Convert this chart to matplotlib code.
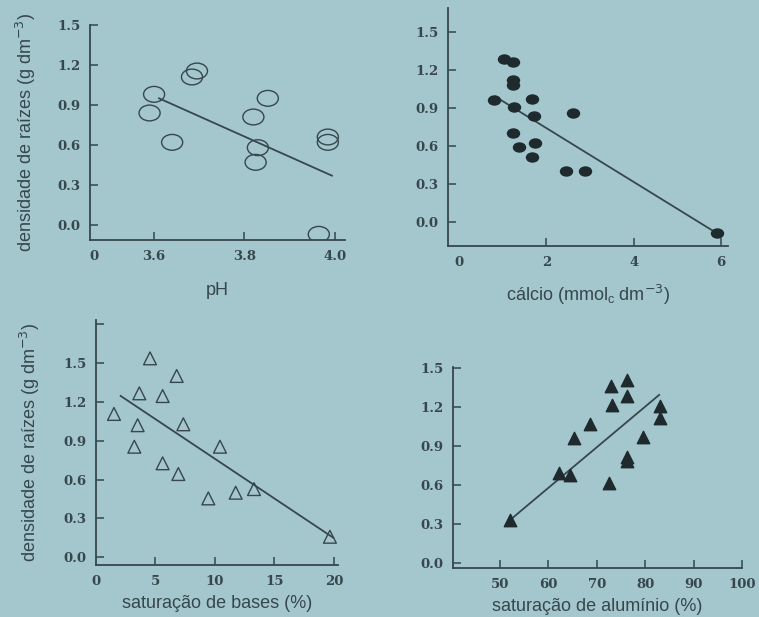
import matplotlib
matplotlib.use("Agg")
from matplotlib import pyplot as plt
from matplotlib.path import Path
from matplotlib.transforms import Affine2D

# pH panel (open circles)
ph_x = [3.60, 3.59, 3.64, 3.684, 3.695, 3.82, 3.852, 3.83, 3.825, 3.965, 3.985, 3.985]
ph_y = [0.98, 0.84, 0.62, 1.11, 1.155, 0.81, 0.95, 0.58, 0.47, -0.07, 0.66, 0.62]
ph_fit_x = [3.611, 3.994]
ph_fit_y = [0.95, 0.37]

# calcio panel (filled circles)
ca_x = [1.04, 1.24, 1.23, 1.24, 0.81, 1.26, 1.66, 1.72, 2.60, 1.23, 1.38, 1.74, 1.68, 2.45, 2.88, 5.90]
ca_y = [1.29, 1.26, 1.12, 1.08, 0.96, 0.905, 0.97, 0.84, 0.86, 0.705, 0.59, 0.62, 0.51, 0.40, 0.40, -0.09]
ca_fit_x = [0.83, 5.91]
ca_fit_y = [0.99, -0.09]

# saturacao de bases panel (open triangles)
sb_x = [1.51, 4.54, 3.64, 5.60, 6.78, 3.50, 3.22, 7.34, 10.42, 5.60, 6.92, 9.44, 11.74, 13.28, 19.66]
sb_y = [1.107, 1.536, 1.266, 1.245, 1.40, 1.02, 0.854, 1.027, 0.854, 0.726, 0.643, 0.455, 0.499, 0.527, 0.159]
sb_fit_x = [2.07, 19.95]
sb_fit_y = [1.246, 0.151]

# saturacao de aluminio panel (filled triangles)
al_x = [52.07, 62.25, 64.46, 65.35, 68.6, 72.87, 73.2, 76.18, 76.18, 72.59, 76.3, 76.3, 79.48, 83.06, 83.06]
al_y = [0.328, 0.697, 0.679, 0.961, 1.071, 1.364, 1.218, 1.41, 1.287, 0.615, 0.82, 0.789, 0.974, 1.21, 1.12]
al_fit_x = [52.07, 82.9]
al_fit_y = [0.33, 1.295]

bg = '#a4c6cd'
ink = '#36474d'
W, H = 759, 617

fig = plt.figure(figsize=(W / 100, H / 100), dpi=100, facecolor=bg)

# flattened circle, the scan is stretched sideways
ellipse = Path.unit_circle().transformed(Affine2D().scale(1.0, 0.75))

tick_font = dict(family='DejaVu Serif', weight='bold', size=9.5)
label_font = dict(family='Liberation Sans', size=13)


def make_ax(x0, x1, ytop, ybot):
    ax = fig.add_axes([x0 / W, 1 - ybot / H, (x1 - x0) / W, (ybot - ytop) / H])
    ax.set_facecolor('none')
    for s in ['top', 'right']:
        ax.spines[s].set_visible(False)
    for s in ['left', 'bottom']:
        ax.spines[s].set_color(ink)
        ax.spines[s].set_linewidth(1.3)
    ax.tick_params(direction='in', length=6, width=1.1, color=ink, labelcolor=ink, pad=7)
    return ax


def style_ticks(ax):
    for t in ax.get_xticklabels() + ax.get_yticklabels():
        t.set_fontfamily(tick_font['family'])
        t.set_fontweight(tick_font['weight'])
        t.set_fontsize(tick_font['size'])


yt = [0.0, 0.3, 0.6, 0.9, 1.2, 1.5]
ytl = ['0.0', '0.3', '0.6', '0.9', '1.2', '1.5']

# pH
ax1 = make_ax(90, 345, 25, 240)
ax1.set_xlim(3.458, 4.023)
ax1.set_ylim(-0.1125, 1.5)
ax1.plot(ph_fit_x, ph_fit_y, color=ink, lw=1.3)
ax1.scatter(ph_x, ph_y, marker=ellipse, s=230, facecolors='none', edgecolors=ink, linewidths=1.0, zorder=3)
ax1.set_xticks([3.467, 3.6, 3.8, 4.0], ['0', '3.6', '3.8', '4.0'])
ax1.xaxis.get_major_ticks()[0].tick1line.set_visible(False)
ax1.set_yticks(yt, ytl)
ax1.set_xlabel('pH', color=ink, labelpad=14, **label_font)
ax1.set_ylabel('densidade de raízes (g dm$^{-3}$)', color=ink, labelpad=14, **label_font)
style_ticks(ax1)

# calcio
ax2 = make_ax(448, 728, 8, 246)
ax2.set_xlim(-0.252, 6.156)
ax2.set_ylim(-0.189, 1.689)
ax2.plot(ca_fit_x, ca_fit_y, color=ink, lw=1.3)
ax2.scatter(ca_x, ca_y, marker=ellipse, s=75, color='#1e2a2e', edgecolors='#1e2a2e', zorder=3)
ax2.set_xticks([0, 2, 4, 6])
ax2.xaxis.get_major_ticks()[0].tick1line.set_visible(False)
ax2.set_yticks(yt, ytl)
ax2.set_xlabel('cálcio (mmol$_\\mathregular{c}$ dm$^{-3}$)', color=ink, labelpad=10, **label_font)
style_ticks(ax2)

# saturacao de bases
ax3 = make_ax(96, 338, 320, 565)
ax3.set_xlim(0, 20.34)
ax3.set_ylim(-0.059, 1.832)
ax3.plot(sb_fit_x, sb_fit_y, color=ink, lw=1.3)
ax3.scatter(sb_x, sb_y, marker='^', s=85, facecolors='none', edgecolors=ink, linewidths=1.0, zorder=3)
ax3.set_xticks([0, 5, 10, 15, 20])
ax3.xaxis.get_major_ticks()[0].tick1line.set_visible(False)
ax3.set_yticks(yt + [1.8], ytl + [''])
ax3.set_xlabel('saturação de bases (%)', color=ink, labelpad=5, **label_font)
ax3.set_ylabel('densidade de raízes (g dm$^{-3}$)', color=ink, labelpad=15, **label_font)
style_ticks(ax3)

# saturacao de aluminio
ax4 = make_ax(453, 742, 367, 568)
ax4.set_xlim(40.35, 100)
ax4.set_ylim(-0.038, 1.51)
ax4.plot(al_fit_x, al_fit_y, color=ink, lw=1.3)
ax4.scatter(al_x, al_y, marker='^', s=80, color='#1e2a2e', zorder=3)
ax4.set_xticks([50, 60, 70, 80, 90, 100])
ax4.set_yticks(yt, ytl)
ax4.set_xlabel('saturação de alumínio (%)', color=ink, labelpad=5, **label_font)
style_ticks(ax4)

fig.savefig('out.png', dpi=100, facecolor=bg)
